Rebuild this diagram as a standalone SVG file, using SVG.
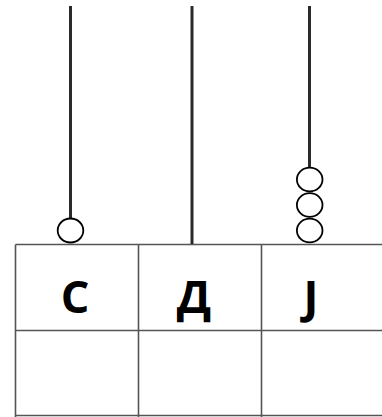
<svg xmlns="http://www.w3.org/2000/svg" width="382" height="417" viewBox="0 0 382 417">
<style>
.rod{stroke:#2a2a2a;stroke-width:3;fill:none}
.bead{fill:#fff;stroke:#000;stroke-width:1.8}
.grid{stroke:#555;stroke-width:1.6;fill:none}
.lbl{font-family:"Open Sans","Liberation Sans",sans-serif;font-weight:700;font-size:45px;fill:#000;text-anchor:middle}
</style>
<rect width="382" height="417" fill="#fff"/>
<g id="table">
<path class="grid" d="M15.5,244.5H382M15.5,330.5H382M15.5,415.5H382M15.5,244.5V417M138.5,244.5V417M261.5,244.5V417"/>
<text class="lbl" x="75" y="312.5">С</text>
<text class="lbl" x="194" y="312.5">Д</text>
<text class="lbl" x="311" y="312.5">Ј</text>
</g>
<g id="connectors">
<line class="rod" x1="70.5" y1="6" x2="70.5" y2="218"/>
<line class="rod" x1="192" y1="6" x2="192" y2="244"/>
<line class="rod" x1="309.5" y1="6" x2="309.5" y2="167"/>
</g>
<g id="rod-c">
<ellipse class="bead" cx="70.5" cy="230.5" rx="12.8" ry="12"/>
</g>
<g id="rod-j">
<ellipse class="bead" cx="309.7" cy="179.5" rx="12.8" ry="11.9"/>
<ellipse class="bead" cx="309.7" cy="205" rx="12.8" ry="11.9"/>
<ellipse class="bead" cx="309.7" cy="230.5" rx="12.8" ry="11.9"/>
</g>
</svg>
